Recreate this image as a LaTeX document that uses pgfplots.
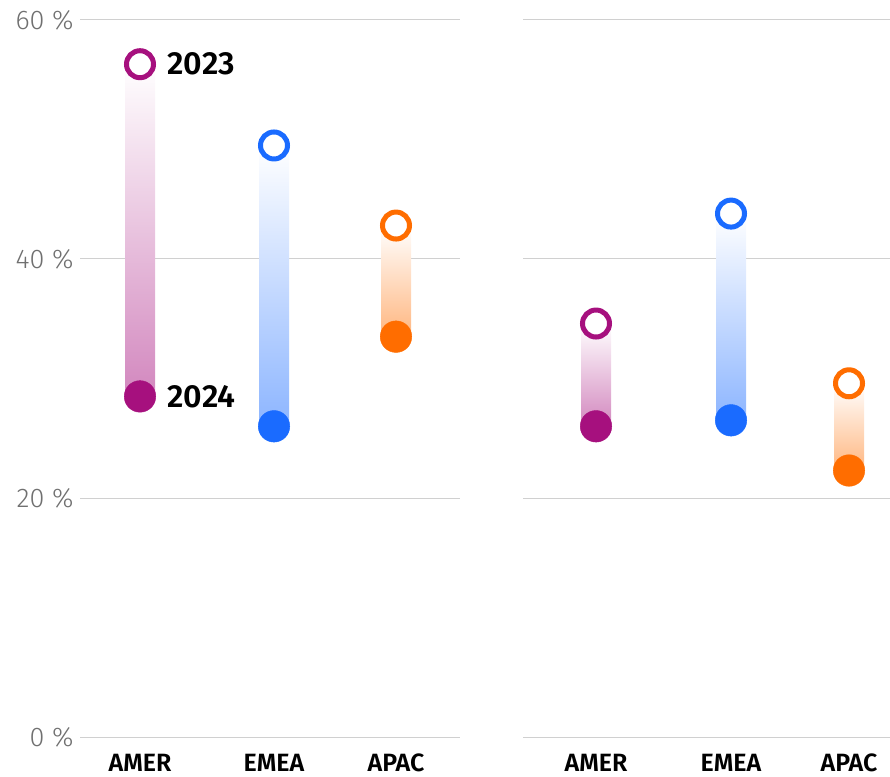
\documentclass[border=0pt]{standalone}
\usepackage{fontspec}
\setmainfont{Fira Sans}
\newfontfamily\lightfont{Fira Sans Light}
\newfontfamily\semifont{Fira Sans SemiBold}
\usepackage{pgfplots}
\pgfplotsset{compat=1.18}
\definecolor{amer}{HTML}{A6107E}
\definecolor{emea}{HTML}{1A6BFF}
\definecolor{apac}{HTML}{FF6D00}
\definecolor{gridc}{HTML}{D0D0D0}
\definecolor{tickc}{HTML}{707070}

\pgfplotsset{
  panel/.style={
    scale only axis, height=717pt,
    ymin=0, ymax=60, xmin=0,
    clip=false,
    axis line style={draw=none},
    major tick length=0pt,
    ymajorgrids, grid style={draw=gridc, line width=1pt},
    ytick={0,20,40,60},
    yticklabel style={font=\fontsize{27}{27}\selectfont\lightfont, text=tickc, anchor=east, xshift=-3pt},
    xticklabel style={font=\fontsize{25}{25}\selectfont\semifont, anchor=base, yshift=-34pt},
  },
  bar/.style={draw=none, shading=axis, top color=white, bottom color=#1!50},
  y24/.style={only marks, mark=*, mark size=15.8pt, color=#1, mark options={fill=#1, line width=0.4pt}},
  y23/.style={only marks, mark=*, mark size=13.5pt, color=#1, mark options={draw=#1, fill=white, line width=5pt}},
}

\begin{document}
\begin{tikzpicture}
\useasboundingbox (-80pt,-39pt) rectangle (810pt,737pt);

% left panel
\begin{axis}[panel, width=380pt, xmax=380,
  xtick={60,194,316}, xticklabels={AMER,EMEA,APAC},
  yticklabels={0 \%,20 \%,40 \%,60 \%}]
\addplot[bar=amer] coordinates {(45,28.5) (75,28.5) (75,56.3) (45,56.3)} -- cycle;
\addplot[bar=emea] coordinates {(179,26.0) (209,26.0) (209,49.5) (179,49.5)} -- cycle;
\addplot[bar=apac] coordinates {(301,33.5) (331,33.5) (331,42.8) (301,42.8)} -- cycle;
\addplot[y24=amer] coordinates {(60,28.5)};
\addplot[y24=emea] coordinates {(194,26.0)};
\addplot[y24=apac] coordinates {(316,33.5)};
\addplot[y23=amer] coordinates {(60,56.3)};
\addplot[y23=emea] coordinates {(194,49.5)};
\addplot[y23=apac] coordinates {(316,42.8)};
\node[anchor=west, font=\fontsize{32}{32}\selectfont\semifont] at (axis cs:84,56.3) {2023};
\node[anchor=west, font=\fontsize{32}{32}\selectfont\semifont] at (axis cs:84,28.5) {2024};
\end{axis}

% right panel
\begin{axis}[panel, at={(443pt,0pt)}, width=367pt, xmax=367,
  xtick={73,208,326}, xticklabels={AMER,EMEA,APAC},
  yticklabels={}]
\addplot[bar=amer] coordinates {(58,26.0) (88,26.0) (88,34.6) (58,34.6)} -- cycle;
\addplot[bar=emea] coordinates {(193,26.5) (223,26.5) (223,43.8) (193,43.8)} -- cycle;
\addplot[bar=apac] coordinates {(311,22.3) (341,22.3) (341,29.6) (311,29.6)} -- cycle;
\addplot[y24=amer] coordinates {(73,26.0)};
\addplot[y24=emea] coordinates {(208,26.5)};
\addplot[y24=apac] coordinates {(326,22.3)};
\addplot[y23=amer] coordinates {(73,34.6)};
\addplot[y23=emea] coordinates {(208,43.8)};
\addplot[y23=apac] coordinates {(326,29.6)};
\end{axis}
\end{tikzpicture}
\end{document}
